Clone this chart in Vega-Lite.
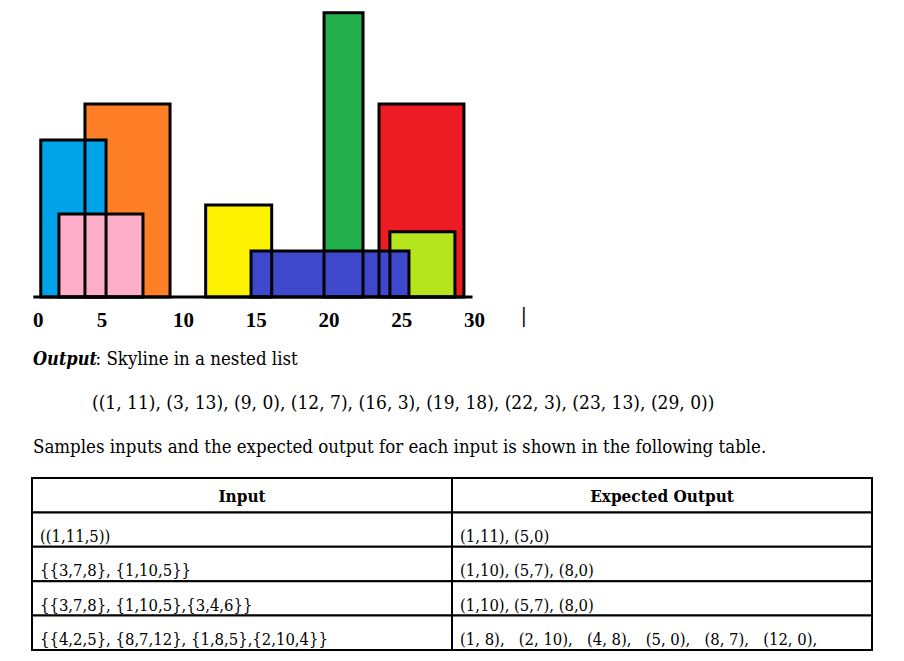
{
  "$schema": "https://vega.github.io/schema/vega-lite/v6.json",
  "padding": 0,
  "autosize": {"type": "pad"},
  "background": "white",
  "spacing": 0,
  "bounds": "flush",
  "config": {"view": {"stroke": null}, "font": "DejaVu Serif Condensed"},
  "datasets": {
    "buildings": [
      {"building": "orange", "left": 3.25, "right": 9.1, "height": 13.0},
      {"building": "blue", "left": 0.21, "right": 4.7, "height": 10.57},
      {"building": "pink", "left": 1.46, "right": 7.24, "height": 5.59},
      {"building": "yellow", "left": 11.55, "right": 16.09, "height": 6.2},
      {"building": "green", "left": 19.69, "right": 22.37, "height": 19.14},
      {"building": "red", "left": 23.47, "right": 29.31, "height": 13.0},
      {"building": "lime", "left": 24.22, "right": 28.69, "height": 4.4},
      {"building": "navy", "left": 14.67, "right": 25.53, "height": 3.1}
    ]
  },
  "vconcat": [
    {
      "width": 904,
      "height": 297,
      "encoding": {
        "x": {
          "type": "quantitative",
          "scale": {"domain": [-2.592, 59.57], "nice": false, "zero": false},
          "axis": {
            "values": [0, 5, 10, 15, 20, 25, 30, 33.4],
            "labelExpr": "datum.value > 31 ? '|' : datum.label",
            "domain": false, "ticks": false, "grid": false, "title": null,
            "labelFont": "Liberation Serif", "labelFontWeight": "bold",
            "labelFontSize": 21, "labelColor": "black",
            "labelBaseline": "alphabetic",
            "labelPadding": {"condition": {"test": "datum.value > 31", "value": 24}, "value": 29},
            "labelOffset": {"condition": {"test": "datum.value === 5", "value": -9}, "value": 0},
            "labelFlush": false, "labelOverlap": false
          }
        },
        "y": {"type": "quantitative", "scale": {"domain": [0, 20], "nice": false}, "axis": null}
      },
      "layer": [
        {
          "data": {"name": "buildings"},
          "mark": {"type": "rect", "strokeWidth": 0},
          "encoding": {
            "x": {"field": "left", "type": "quantitative"},
            "x2": {"field": "right"},
            "y": {"field": "height", "type": "quantitative"},
            "y2": {"datum": 0},
            "color": {
              "field": "building", "type": "nominal", "legend": null,
              "scale": {
                "domain": ["orange", "blue", "pink", "yellow", "green", "red", "lime", "navy"],
                "range": ["#FF7F27", "#00A2E8", "#FFAEC9", "#FFF200", "#22B14C", "#ED1C24", "#B5E61D", "#3F48CC"]
              }
            }
          }
        },
        {
          "data": {"name": "buildings"},
          "mark": {"type": "rect", "filled": false, "color": "black", "strokeWidth": 3},
          "encoding": {
            "x": {"field": "left", "type": "quantitative"},
            "x2": {"field": "right"},
            "y": {"field": "height", "type": "quantitative"},
            "y2": {"datum": 0}
          }
        },
        {
          "data": {"values": [{"start": -0.3, "end": 29.9, "level": 0}]},
          "mark": {"type": "rule", "color": "black", "strokeWidth": 3},
          "encoding": {
            "x": {"field": "start", "type": "quantitative"},
            "x2": {"field": "end"},
            "y": {"field": "level", "type": "quantitative"}
          }
        }
      ]
    },
    {
      "width": 904,
      "height": 181,
      "encoding": {
        "x": {"field": "seg", "type": "nominal", "scale": {"type": "point", "domain": ["margin", "indent"], "range": [33, 92], "padding": 0}, "axis": null},
        "y": {"field": "line", "type": "nominal", "scale": {"type": "point", "domain": ["l1", "l2", "l3"], "range": [68, 156], "padding": 0}, "axis": null},
        "text": {"field": "text"}
      },
      "layer": [
        {
          "data": {"values": [{"line": "l1", "seg": "margin", "text": "Output"}]},
          "mark": {"type": "text", "align": "left", "baseline": "alphabetic", "font": "DejaVu Serif Condensed", "fontSize": 18, "fontStyle": "italic", "fontWeight": "bold", "color": "black"}
        },
        {
          "data": {"values": [{"line": "l1", "seg": "margin", "text": ": Skyline in a nested list"}]},
          "mark": {"type": "text", "align": "left", "baseline": "alphabetic", "font": "DejaVu Serif Condensed", "fontSize": 18.5, "dx": 62.5, "color": "black"}
        },
        {
          "data": {"values": [
            {"line": "l2", "seg": "indent", "text": "((1, 11), (3, 13), (9, 0), (12, 7), (16, 3), (19, 18), (22, 3), (23, 13), (29, 0))"}
          ]},
          "mark": {"type": "text", "align": "left", "baseline": "alphabetic", "font": "DejaVu Serif Condensed", "fontSize": 19, "color": "black"}
        },
        {
          "data": {"values": [
            {"line": "l3", "seg": "margin", "text": "Samples inputs and the expected output for each input is shown in the following table."}
          ]},
          "mark": {"type": "text", "align": "left", "baseline": "alphabetic", "font": "DejaVu Serif Condensed", "fontSize": 18.5, "color": "black"}
        }
      ]
    },
    {
      "width": 904,
      "height": 172,
      "data": {"values": [
        {"row": 0, "col": "Input", "text": "Input"},
        {"row": 0, "col": "Expected Output", "text": "Expected Output"},
        {"row": 1, "col": "Input", "text": "((1,11,5))"},
        {"row": 1, "col": "Expected Output", "text": "(1,11), (5,0)"},
        {"row": 2, "col": "Input", "text": "{{3,7,8}, {1,10,5}}"},
        {"row": 2, "col": "Expected Output", "text": "(1,10), (5,7), (8,0)"},
        {"row": 3, "col": "Input", "text": "{{3,7,8}, {1,10,5},{3,4,6}}"},
        {"row": 3, "col": "Expected Output", "text": "(1,10), (5,7), (8,0)"},
        {"row": 4, "col": "Input", "text": "{{4,2,5}, {8,7,12}, {1,8,5},{2,10,4}}"},
        {"row": 4, "col": "Expected Output", "text": "(1, 8),\u00a0\u00a0 (2, 10),\u00a0\u00a0 (4, 8),\u00a0\u00a0 (5, 0),\u00a0\u00a0 (8, 7),\u00a0\u00a0 (12, 0),"}
      ]},
      "encoding": {
        "x": {"field": "col", "type": "nominal", "scale": {"type": "band", "domain": ["Input", "Expected Output"], "paddingInner": 0, "paddingOuter": 0.0762}, "axis": null},
        "y": {"field": "row", "type": "ordinal", "scale": {"type": "band", "domain": [0, 1, 2, 3, 4], "paddingInner": 0, "paddingOuter": 0}, "axis": null}
      },
      "layer": [
        {"mark": {"type": "rect", "fill": "white", "stroke": "black", "strokeWidth": 2}},
        {
          "transform": [{"filter": "datum.row == 0"}],
          "mark": {"type": "text", "align": "center", "baseline": "alphabetic", "dy": -10, "font": "DejaVu Serif Condensed", "fontSize": 17, "fontWeight": "bold", "color": "black"},
          "encoding": {
            "y": {"field": "row", "type": "ordinal", "bandPosition": 1},
            "text": {"field": "text"}
          }
        },
        {
          "transform": [{"filter": "datum.row > 0"}],
          "mark": {"type": "text", "align": "left", "baseline": "alphabetic", "dx": 8, "dy": -5, "font": "DejaVu Serif Condensed", "fontSize": 16.5, "color": "black"},
          "encoding": {
            "x": {"field": "col", "type": "nominal", "bandPosition": 0},
            "y": {"field": "row", "type": "ordinal", "bandPosition": 1},
            "text": {"field": "text"}
          }
        }
      ]
    }
  ]
}
